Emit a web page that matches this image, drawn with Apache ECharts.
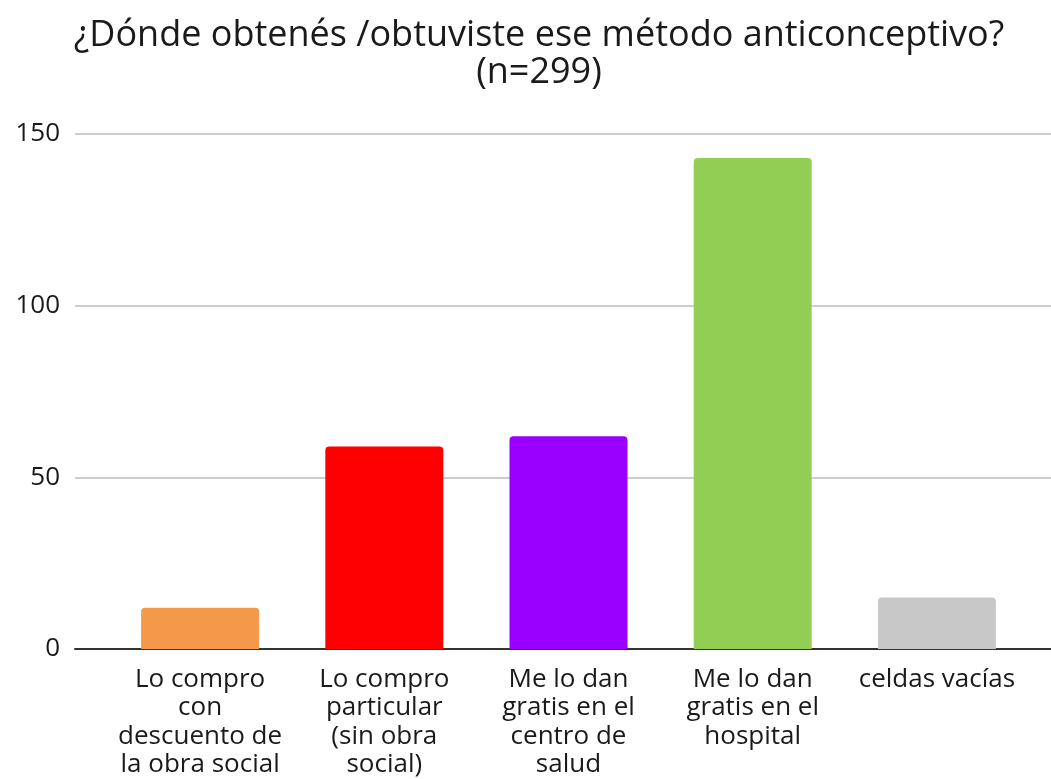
<!DOCTYPE html>
<html>
<head>
<meta charset="utf-8">
<script src="https://cdn.jsdelivr.net/npm/echarts@6/dist/echarts.min.js"></script>
<style>
  html, body { margin: 0; padding: 0; background: #fff; }
  #chart { width: 1051px; height: 779px; }
</style>
</head>
<body>
<div id="chart"></div>
<script>
// data
const categories = [
  'Lo compro\ncon\ndescuento de\nla obra social',
  'Lo compro\nparticular\n(sin obra\nsocial)',
  'Me lo dan\ngratis en el\ncentro de\nsalud',
  'Me lo dan\ngratis en el\nhospital',
  'celdas vacías'
];
const counts = [12, 59, 62, 143, 15];
const barColors = ['#F4994A', '#FF0000', '#9900FF', '#92CE54', '#C8C8C8'];
const yTicks = [0, 50, 100, 150];

const font = 'Open Sans';
var myChart = echarts.init(document.getElementById('chart'));

const option = {
  animation: false,
  backgroundColor: '#fff',
  title: {
    text: '¿Dónde obtenés /obtuviste ese método anticonceptivo?\n(n=299)',
    left: 534,
    textAlign: 'center',
    top: 12,
    textStyle: {
      fontFamily: font,
      fontSize: 36,
      fontWeight: 'normal',
      color: '#1a1a1a',
      lineHeight: 37
    }
  },
  grid: [
    // outer plot area: gridlines and baseline
    { left: 75, right: 0, top: 134, bottom: 130, outerBoundsMode: 'none' },
    // bar area
    { left: 108, right: 22, top: 134, bottom: 130, outerBoundsMode: 'none' }
  ],
  xAxis: [
    {
      gridIndex: 0,
      type: 'category',
      data: [''],
      axisLine: { lineStyle: { color: '#333', width: 2 } },
      axisTick: { show: false },
      axisLabel: { show: false }
    },
    {
      gridIndex: 1,
      type: 'category',
      data: categories,
      axisLine: { show: false },
      axisTick: { show: false },
      axisLabel: {
        interval: 0,
        margin: 16,
        fontFamily: font,
        fontSize: 26,
        lineHeight: 28.5,
        color: '#1a1a1a',
        align: 'center'
      }
    }
  ],
  yAxis: [
    {
      gridIndex: 0,
      type: 'value',
      min: yTicks[0],
      max: yTicks[yTicks.length - 1],
      interval: 50,
      axisLine: { show: false },
      axisTick: { show: false },
      axisLabel: {
        margin: 15,
        fontFamily: font,
        fontSize: 26,
        color: '#1a1a1a'
      },
      splitLine: { lineStyle: { color: '#CCCCCC', width: 2 } }
    },
    {
      gridIndex: 1,
      type: 'value',
      min: yTicks[0],
      max: yTicks[yTicks.length - 1],
      interval: 50,
      show: false,
      splitLine: { show: false }
    }
  ],
  series: [
    {
      type: 'bar',
      xAxisIndex: 1,
      yAxisIndex: 1,
      barWidth: 118,
      data: counts.map(function (v, i) {
        return { value: v, itemStyle: { color: barColors[i] } };
      }),
      itemStyle: { borderRadius: [4, 4, 0, 0] },
      z: 1
    }
  ]
};

myChart.setOption(option);
</script>
</body>
</html>
